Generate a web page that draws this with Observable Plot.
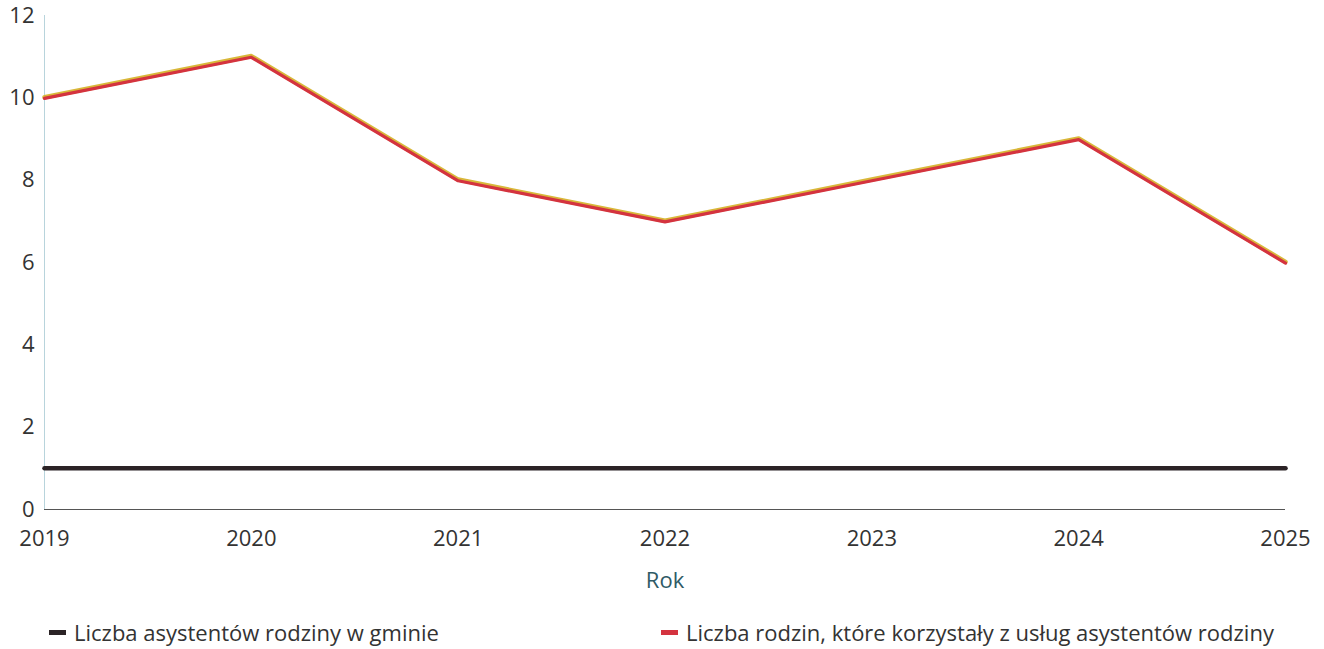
<!DOCTYPE html>
<html><head><meta charset="utf-8">
<script src="https://cdn.jsdelivr.net/npm/d3@7"></script>
<script src="https://cdn.jsdelivr.net/npm/@observablehq/plot@0.6"></script>
<style>
body{margin:0;background:#fff;font-family:"Open Sans",sans-serif;}
#legend{position:relative;height:49px;font-size:22px;color:#333;}
.item{position:absolute;top:17px;display:flex;align-items:center;white-space:nowrap;}
.sw{display:inline-block;width:17px;height:5px;margin-right:8px;}
</style></head><body>
<div id="chart"></div>
<div id="legend"></div>
<script>
const years = [2019, 2020, 2021, 2022, 2023, 2024, 2025];
const assistants = [1, 1, 1, 1, 1, 1, 1];
const families = [10, 11, 8, 7, 8, 9, 6];
const seriesNames = ["Liczba asystentów rodziny w gminie", "Liczba rodzin, które korzystały z usług asystentów rodziny"];
const seriesColors = ["#2b2326", "#d4333f"];
const yTicks = [0, 2, 4, 6, 8, 10, 12];

const dA = years.map((y, i) => ({year: y, value: assistants[i]}));
const dF = years.map((y, i) => ({year: y, value: families[i]}));

const plot = Plot.plot({
  width: 1324, height: 600,
  marginLeft: 44, marginRight: 39, marginTop: 15, marginBottom: 91,
  style: {fontFamily: "'Open Sans', sans-serif", fontSize: "22px", color: "#333", background: "#fff"},
  x: {domain: [2019, 2025], ticks: years, tickFormat: d => String(d), tickSize: 0, tickPadding: 21, label: "Rok", labelAnchor: "center", labelOffset: 78, labelArrow: "none"},
  y: {domain: [0, 12], ticks: yTicks, tickSize: 0, tickPadding: 10, label: null},
  marks: [
    Plot.ruleX([2019], {stroke: "#b8d4dc", strokeWidth: 1}),
    Plot.ruleY([0], {stroke: "#555", strokeWidth: 1.2}),
    Plot.line(dA, {x: "year", y: "value", stroke: seriesColors[0], strokeWidth: 4.5}),
    Plot.line(dF, {x: "year", y: "value", stroke: "#d9b83a", strokeWidth: 4.5, dy: -0.6}),
    Plot.line(dF, {x: "year", y: "value", stroke: seriesColors[1], strokeWidth: 3.2, dy: 0.6})
  ]
});
document.getElementById("chart").appendChild(plot);
d3.select(plot).selectAll("[aria-label='x-axis label'] text, [aria-label='x-axis label']").attr("fill", "#2f5a66");

const lg = d3.select("#legend");
const lefts = [49, 661];
seriesNames.forEach((n, i) => {
  const it = lg.append("div").attr("class", "item").style("left", lefts[i] + "px");
  it.append("span").attr("class", "sw").style("background", seriesColors[i]);
  it.append("span").text(n);
});
</script>
</body></html>
